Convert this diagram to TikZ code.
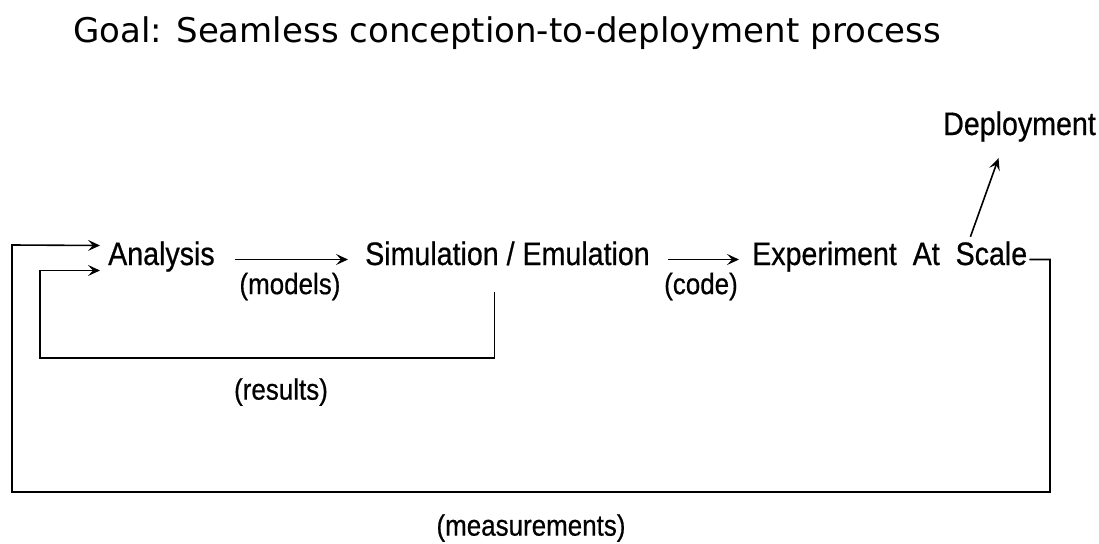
\documentclass[tikz,border=0pt]{standalone}
\usepackage{fontspec}
\setmainfont{Liberation Sans}[FakeStretch=0.88]
\newfontfamily\stagefont{Liberation Sans}[FakeStretch=0.88, FakeBold=0.6]
\newfontfamily\titlefont{DejaVu Sans}
\usetikzlibrary{arrows.meta,positioning}

\tikzset{
  stage/.style={inner sep=0pt, anchor=base west, text height=23pt, text depth=12pt,
                font=\stagefont\fontsize{32.5}{36}\selectfont},
  lbl/.style={inner sep=0pt, font=\stagefont\fontsize{29.5}{32}\selectfont},
  flow/.style={-{Stealth[length=12pt,width=11pt,inset=5pt]}, line width=1.6pt},
}

\begin{document}
\begin{tikzpicture}[x=1pt, y=-1pt]
   \useasboundingbox (0,0) rectangle (1099,543);

\node[inner sep=0pt, anchor=base west, font=\titlefont\fontsize{34}{40}\selectfont]
   (title) at (73,42) {Goal: Seamless conception-to-deployment process};

\node[stage] (ana) at (108,265) {Analysis};
\node[stage] (sim) at (365,265) {Simulation / Emulation};
\node[stage] (exp) at (752,265) {Experiment\ \ At\ \ Scale};
\node[stage] (dep) at (943,135) {Deployment};

\coordinate (mright) at (1050,492);
\coordinate (mleft) at (12,245);
\coordinate (rleft) at (40,358);

\draw[flow, shorten <=20pt, shorten >=17pt] (ana) -- node[lbl, yshift=-27pt] (models) {(models)} (sim);
\draw[flow, shorten <=18pt, shorten >=13pt] (sim) -- node[lbl, yshift=-27pt] (code) {(code)} (exp);
\draw[flow] ([xshift=-57pt,yshift=5pt]exp.north east) -- ([xshift=-21pt,yshift=-11pt]dep.south);

% feedback loops
\draw[flow] ([xshift=-13pt,yshift=-15pt]sim.south) |- (rleft) |- ([xshift=-8pt,yshift=-11pt]ana.west);
\draw[flow] ([xshift=2pt]exp.east) -| (mright) -| (mleft) -- ([xshift=-8pt,yshift=14pt]ana.west);

\node[lbl] (results) at (281,392) {(results)};
\node[lbl] (measurements) at (531,528) {(measurements)};

\end{tikzpicture}
\end{document}
